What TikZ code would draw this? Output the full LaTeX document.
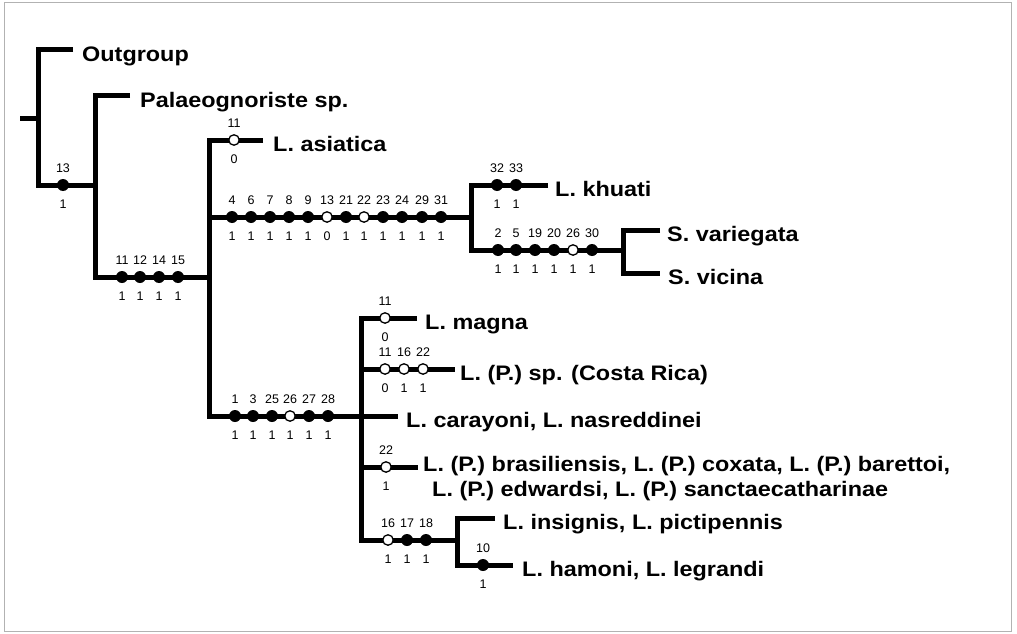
\documentclass[tikz,border=0pt]{standalone}
\usepackage{fontspec}
\setmainfont{Liberation Sans}
\newfontfamily\labfont[FakeStretch=1.115]{Liberation Sans}
\begin{document}
\begin{tikzpicture}[x=1pt,y=-1pt,
  br/.style={line width=5pt,line join=miter},
  fn/.style={circle,fill=black,inner sep=0pt,minimum size=12pt},
  on/.style={circle,draw=black,fill=white,line width=1.3pt,inner sep=0pt,minimum size=10.5pt},
  taxon/.style={font=\labfont\bfseries\fontsize{21}{25}\selectfont,anchor=base west,inner sep=0pt},
  num/.style={font=\fontsize{12.5}{13}\selectfont,anchor=base,inner sep=0pt}]
\newcommand\ch[6]{%
  \node[#1] (#2) at (#3,#4) {};
  \node[num] (#2t) at (#3,#4-13) {#5};
  \node[num] (#2b) at (#3,#4+23) {#6};}
\useasboundingbox (0,0) rectangle (1017,634);
\draw[gray!60,line width=1pt] (4,3) rectangle (1011,631);
% coordinates
\coordinate (r0) at (20,118); \coordinate (r1) at (38,118);
\coordinate (v1t) at (38,50); \coordinate (v1b) at (38,185);
\coordinate (ogE) at (73,50);
\coordinate (v2t) at (95,95); \coordinate (v2m) at (95,185); \coordinate (v2b) at (95,277);
\coordinate (palE) at (130,95);
\coordinate (v3t) at (209,140); \coordinate (v3m) at (209,217); \coordinate (v3j) at (209,277); \coordinate (v3b) at (209,416);
\coordinate (asiE) at (263,140);
\coordinate (v4t) at (471,185); \coordinate (v4m) at (471,217); \coordinate (v4b) at (471,250);
\coordinate (khuE) at (548,185);
\coordinate (v5t) at (623,230); \coordinate (v5m) at (623,250); \coordinate (v5b) at (623,273);
\coordinate (varE) at (660,230); \coordinate (vicE) at (660,273);
\coordinate (v6t) at (361,318); \coordinate (v6a) at (361,369); \coordinate (v6m) at (361,416); \coordinate (v6c) at (361,467); \coordinate (v6b) at (361,540);
\coordinate (magE) at (417,318); \coordinate (crE) at (455,369); \coordinate (carE) at (398,416); \coordinate (braE) at (418,467);
\coordinate (v7t) at (457,518); \coordinate (v7m) at (457,540); \coordinate (v7b) at (457,565);
\coordinate (insE) at (495,518); \coordinate (hamE) at (513,565);
% branches
\draw[br] (r0) -- (r1);
\draw[br] (ogE) -- (v1t) -- (v1b) -- (v2m);
\draw[br] (palE) -- (v2t) -- (v2b) -- (v3j);
\draw[br] (asiE) -- (v3t) -- (v3b) -- (v6m);
\draw[br] (v3m) -- (v4m);
\draw[br] (khuE) -- (v4t) -- (v4b) -- (v5m);
\draw[br] (varE) -- (v5t) -- (v5b) -- (vicE);
\draw[br] (magE) -- (v6t) -- (v6b) -- (v7m);
\draw[br] (v6a) -- (crE);
\draw[br] (v6m) -- (carE);
\draw[br] (v6c) -- (braE);
\draw[br] (insE) -- (v7t) -- (v7b) -- (hamE);
% character changes
\ch{fn}{c13a}{63}{185}{13}{1}
\ch{fn}{c11a}{122}{277}{11}{1}
\ch{fn}{c12a}{140}{277}{12}{1}
\ch{fn}{c14a}{159}{277}{14}{1}
\ch{fn}{c15a}{178}{277}{15}{1}
\ch{on}{c11b}{234}{140}{11}{0}
\ch{fn}{c4}{232}{217}{4}{1}
\ch{fn}{c6}{251}{217}{6}{1}
\ch{fn}{c7}{270}{217}{7}{1}
\ch{fn}{c8}{289}{217}{8}{1}
\ch{fn}{c9}{308}{217}{9}{1}
\ch{on}{c13b}{327}{217}{13}{0}
\ch{fn}{c21}{346}{217}{21}{1}
\ch{on}{c22a}{364}{217}{22}{1}
\ch{fn}{c23}{383}{217}{23}{1}
\ch{fn}{c24}{402}{217}{24}{1}
\ch{fn}{c29}{422}{217}{29}{1}
\ch{fn}{c31}{441}{217}{31}{1}
\ch{fn}{c32}{497}{185}{32}{1}
\ch{fn}{c33}{516}{185}{33}{1}
\ch{fn}{c2}{498}{250}{2}{1}
\ch{fn}{c5}{516}{250}{5}{1}
\ch{fn}{c19}{535}{250}{19}{1}
\ch{fn}{c20}{554}{250}{20}{1}
\ch{on}{c26a}{573}{250}{26}{1}
\ch{fn}{c30}{592}{250}{30}{1}
\ch{fn}{c1}{235}{416}{1}{1}
\ch{fn}{c3}{253}{416}{3}{1}
\ch{fn}{c25}{272}{416}{25}{1}
\ch{on}{c26b}{290}{416}{26}{1}
\ch{fn}{c27}{309}{416}{27}{1}
\ch{fn}{c28}{328}{416}{28}{1}
\ch{on}{c11c}{385}{318}{11}{0}
\ch{on}{c11d}{385}{369}{11}{0}
\ch{on}{c16a}{404}{369}{16}{1}
\ch{on}{c22b}{423}{369}{22}{1}
\ch{on}{c22c}{386}{467}{22}{1}
\ch{on}{c16b}{388}{540}{16}{1}
\ch{fn}{c17}{407}{540}{17}{1}
\ch{fn}{c18}{426}{540}{18}{1}
\ch{fn}{c10}{483}{565}{10}{1}
% taxa
\node[taxon] (tog) at (82,62) {Outgroup};
\node[taxon] (tpal) at (140,107) {Palaeognoriste sp.};
\node[taxon] (tasi) at (273,151) {L. asiatica};
\node[taxon] (tkhu) at (555,196) {L. khuati};
\node[taxon] (tvar) at (667,241) {S. variegata};
\node[taxon] (tvic) at (668,284) {S. vicina};
\node[taxon] (tmag) at (425,329) {L. magna};
\node[taxon] (tcr) at (460,380) {L. (P.) sp. (Costa Rica)};
\node[taxon] (tcar) at (406,427) {L. carayoni, L. nasreddinei};
\node[taxon] (tbra) at (423,471) {L. (P.) brasiliensis, L. (P.) coxata, L. (P.) barettoi,};
\node[taxon] (tedw) at (432,496) {L. (P.) edwardsi, L. (P.) sanctaecatharinae};
\node[taxon] (tins) at (503,529) {L. insignis, L. pictipennis};
\node[taxon] (tham) at (522,576) {L. hamoni, L. legrandi};
\end{tikzpicture}
\end{document}
